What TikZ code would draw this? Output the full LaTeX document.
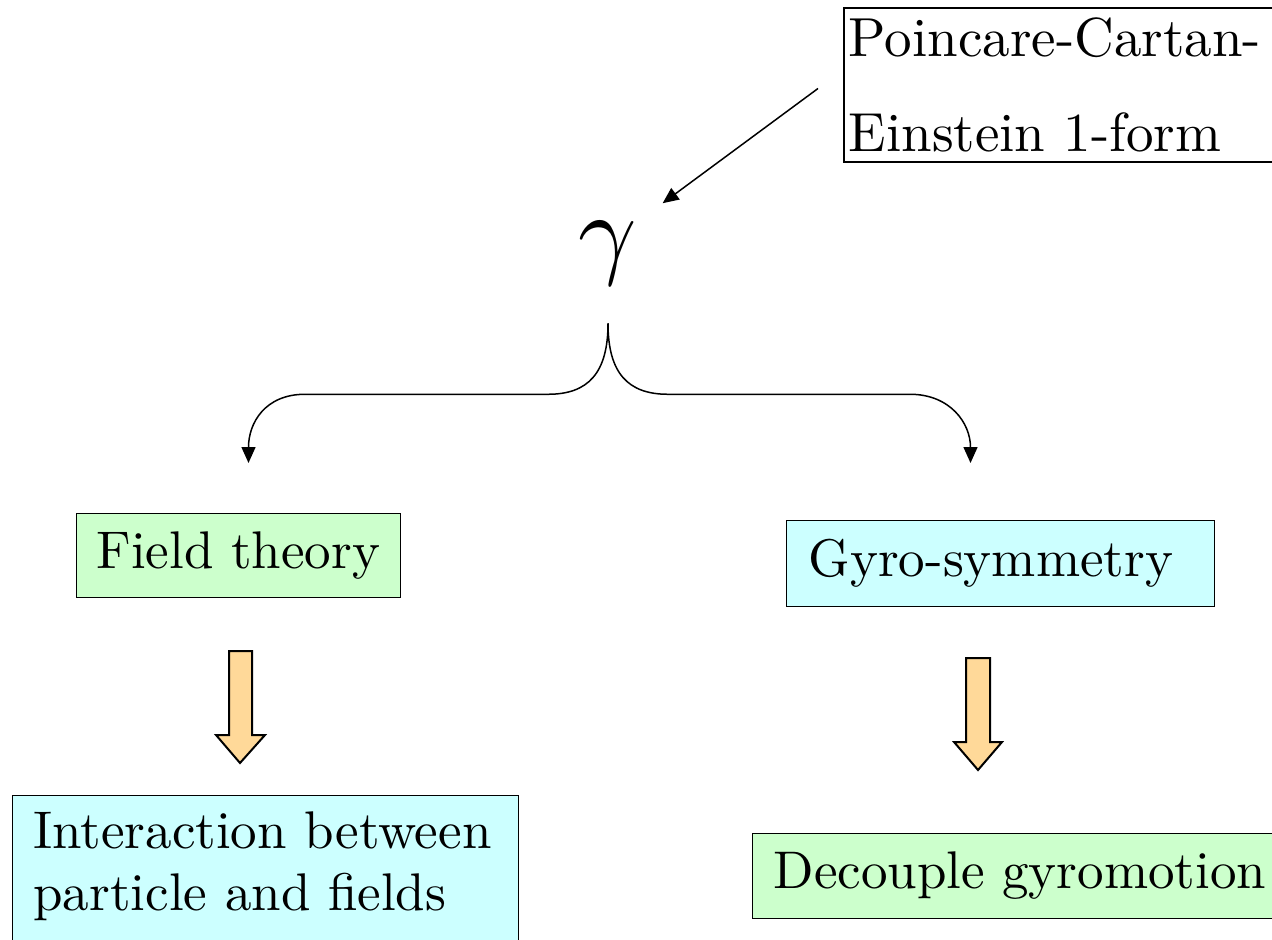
\documentclass[tikz,border=0pt]{standalone}
\usepackage{graphicx}
\usepackage{amsmath,amssymb}
\usetikzlibrary{arrows.meta,positioning}

\font\boxfont="[lmroman10-regular]:mapping=tex-text" at 26.5pt
\font\pcfont="[lmroman10-regular]:mapping=tex-text" at 27.5pt

\definecolor{boxgreen}{HTML}{CCFFCC}
\definecolor{boxcyan}{HTML}{CCFFFF}
\definecolor{arroworange}{HTML}{FFD999}

\tikzset{
  box/.style={draw, rectangle, line width=0.5pt, anchor=north west, align=left,
    font={\fontsize{26.5}{31}\selectfont\boxfont}},
  link/.style={-{Triangle[length=8pt,width=7pt]}, line width=0.75pt},
  fatarrow/.style={draw, line width=1pt, fill=arroworange, line join=miter},
}

\begin{document}
\begin{tikzpicture}[x=0.5pt,y=-0.5pt]
    \useasboundingbox (0,0) rectangle (1272,940);

    % 节点
    \node[box, line width=0.8pt, inner xsep=2.5pt, inner ysep=5pt, text width=240pt,
      font={\fontsize{27.5}{47.5}\selectfont\pcfont}] (pc) at (843,7) {Poincare-Cartan-\\Einstein 1-form};
    \node[inner sep=0pt] (gamma) at (608,253) {\scalebox{5.1}{$\gamma$}};
    \node[box, fill=boxgreen, inner xsep=10pt, text width=142pt, minimum height=42pt] (field) at (76,513) {Field theory};
    \node[box, fill=boxcyan, inner xsep=11pt, text width=192pt, minimum height=43pt] (gyro) at (786,520) {Gyro-symmetry};
    \node[box, fill=boxcyan, inner xsep=10.5pt, inner ysep=8pt, text width=232pt, text depth=50pt] (inter) at (12,795) {Interaction between\\particle and fields};
    \node[box, fill=boxgreen, inner xsep=10.5pt, text width=250pt, minimum height=42.5pt] (decouple) at (752,833) {Decouple gyromotion};

    % 箭头
    \draw[link] ([xshift=-12.5pt,yshift=-1.75pt]pc.west) -- ([xshift=12.5pt,yshift=8.75pt]gamma.north east);
    \coordinate (fork) at ([yshift=-19pt]gamma.south);
    \draw[link] (fork) .. controls +(0,50) and +(40,0) .. ++(-60,71) -- ++(-243,0)
      .. controls +(-40,0) and +(0,-40) .. ([xshift=5pt,yshift=25pt]field.north);
    \draw[link] (fork) .. controls +(0,50) and +(-40,0) .. ++(60,71) -- ++(242,0)
      .. controls +(40,0) and +(0,-40) .. ([xshift=-15pt,yshift=28.5pt]gyro.north);

    \draw[fatarrow] (229,651) -- (252,651) -- (252,735) -- (265,735) -- (240,763) -- (216,735) -- (229,735) -- cycle;
    \draw[fatarrow] (966,658) -- (990,658) -- (990,742) -- (1002,742) -- (978,770) -- (954,742) -- (966,742) -- cycle;

\end{tikzpicture}
\end{document}
